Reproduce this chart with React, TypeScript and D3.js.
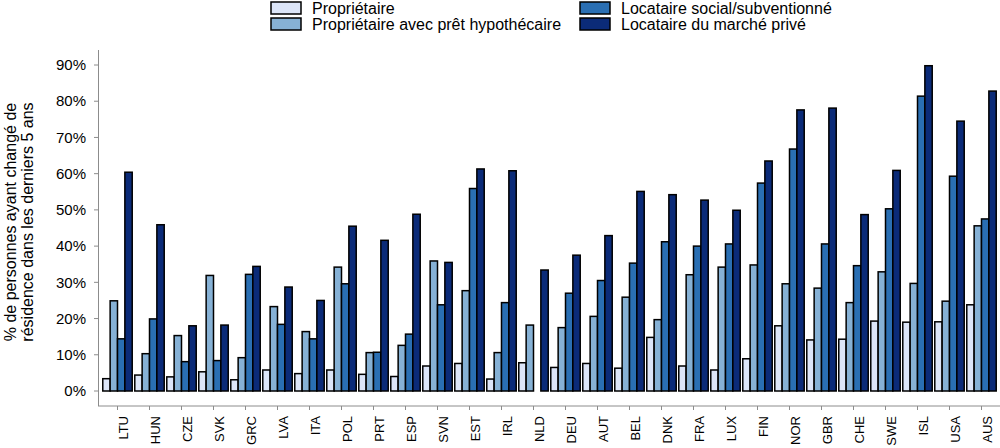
import React from "react";
import * as d3 from "d3";

const countries = ["LTU","HUN","CZE","SVK","GRC","LVA","ITA","POL","PRT","ESP","SVN","EST","IRL","NLD","DEU","AUT","BEL","DNK","FRA","LUX","FIN","NOR","GBR","CHE","SWE","ISL","USA","AUS"];

const seriesNames = ["Propriétaire","Propriétaire avec prêt hypothécaire","Locataire social/subventionné","Locataire du marché privé"];
const seriesColors = ["#dce5f8","#86b1d5","#2a6fb3","#0b2b78"];

const owner = [3.4,4.4,3.9,5.3,3.1,5.8,4.8,5.8,4.6,4.0,6.9,7.6,3.3,7.8,6.5,7.6,6.3,14.8,6.9,5.8,8.9,18.0,14.1,14.3,19.3,19.0,19.1,23.8];
const mortgage = [24.9,10.3,15.3,31.9,9.2,23.3,16.4,34.2,10.6,12.6,35.9,27.7,10.6,18.2,17.5,20.6,25.9,19.7,32.1,34.2,34.8,29.6,28.4,24.4,32.9,29.7,24.8,45.6];
const social = [14.4,19.9,8.1,8.4,32.2,18.4,14.4,29.6,10.7,15.7,23.8,55.9,24.4,NaN,27.0,30.5,35.3,41.2,40.0,40.6,57.4,66.8,40.6,34.6,50.3,81.4,59.3,47.5];
const privateRent = [60.4,45.9,18.0,18.2,34.4,28.7,25.0,45.5,41.6,48.8,35.5,61.3,60.8,33.4,37.5,42.9,55.1,54.2,52.7,49.9,63.5,77.6,78.1,48.7,60.9,89.8,74.5,82.8];

const yTicks = [0,10,20,30,40,50,60,70,80,90];

const seriesValues = [owner, mortgage, social, privateRent];

export default function App() {
  const W = 1000, H = 448;
  const x = d3.scaleBand<string>().domain(countries).range([101.5, 997.5]).paddingInner(0.08).paddingOuter(0.04);
  const xs = d3.scaleBand<number>().domain([0,1,2,3]).range([0, x.bandwidth()]).padding(0);
  const y = d3.scaleLinear().domain([0, 90]).range([391, 65]);
  const axisColor = "#8c8c8c";
  const font = "Arial, 'Liberation Sans', sans-serif";

  return (
    <svg width={W} height={H} style={{ position: "absolute", left: 0, top: 0, background: "#fff" }} fontFamily={font}>
      {/* legend */}
      {seriesNames.map((name, i) => {
        const col = Math.floor(i / 2);
        const row = i % 2;
        const lx = col === 0 ? 271 : 580;
        const ly = row === 0 ? 2 : 18;
        return (
          <g key={name}>
            <rect x={lx} y={ly} width={30} height={12} fill={seriesColors[i]} stroke="#000" strokeWidth={1.5} />
            <text x={lx + 41} y={ly + 6} dy="0.35em" fontSize={16} fill="#000">{name}</text>
          </g>
        );
      })}
      {/* y axis */}
      <line x1={98.5} x2={98.5} y1={50} y2={406} stroke={axisColor} strokeWidth={1} />
      {yTicks.map(t => (
        <g key={t}>
          <line x1={94} x2={98.5} y1={y(t)} y2={y(t)} stroke={axisColor} />
          <text x={86} y={y(t)} dy="0.35em" textAnchor="end" fontSize={15} fill="#000">{t + "%"}</text>
        </g>
      ))}
      {/* y title */}
      <g transform="translate(10,222) rotate(-90)">
        <text x={0} y={0} dy="0.35em" textAnchor="middle" fontSize={16} fill="#000">% de personnes ayant changé de</text>
      </g>
      <g transform="translate(27,222) rotate(-90)">
        <text x={0} y={0} dy="0.35em" textAnchor="middle" fontSize={16} fill="#000">résidence dans les derniers 5 ans</text>
      </g>
      {/* x axis */}
      <line x1={98} x2={1000} y1={406} y2={406} stroke={axisColor} strokeWidth={1} />
      {countries.map(c => {
        const cx = (x(c) as number) + x.bandwidth() / 2;
        return (
          <g key={c}>
            <line x1={cx} x2={cx} y1={406} y2={410} stroke={axisColor} />
            <g transform={`translate(${cx + 6},416) rotate(-90)`}>
              <text x={0} y={0} dy="0.35em" textAnchor="end" fontSize={13} fill="#000">{c}</text>
            </g>
          </g>
        );
      })}
      {/* bars */}
      {countries.map((c, ci) => (
        <g key={c} transform={`translate(${x(c)},0)`}>
          {seriesValues.map((vals, si) => {
            const v = vals[ci];
            if (v == null || isNaN(v)) return null;
            return (
              <rect key={si} x={xs(si)} y={y(v)} width={xs.bandwidth()} height={y(0) - y(v)}
                fill={seriesColors[si]} stroke="#000" strokeWidth={1.5} />
            );
          })}
        </g>
      ))}
    </svg>
  );
}
